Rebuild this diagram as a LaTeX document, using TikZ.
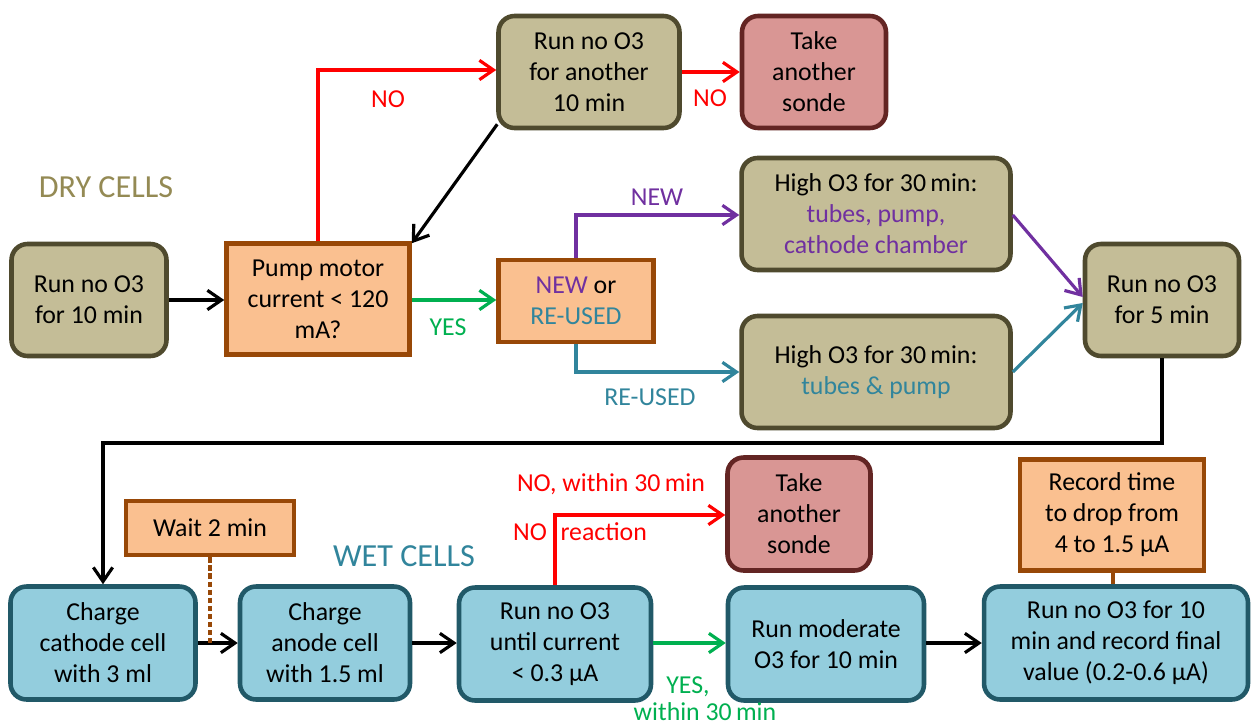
\documentclass[tikz,border=0pt]{standalone}
\usepackage{fontspec}
\setmainfont{Carlito}
\usetikzlibrary{arrows.meta}
\definecolor{olivefill}{HTML}{C4BD97}
\definecolor{olivedraw}{HTML}{4F4A2E}
\definecolor{orfill}{HTML}{FAC090}
\definecolor{ordraw}{HTML}{984807}
\definecolor{pkfill}{HTML}{D99694}
\definecolor{pkdraw}{HTML}{632523}
\definecolor{blfill}{HTML}{93CDDD}
\definecolor{bldraw}{HTML}{215968}
\definecolor{myred}{HTML}{FF0000}
\definecolor{mygreen}{HTML}{00B050}
\definecolor{mypurple}{HTML}{7030A0}
\definecolor{myteal}{HTML}{31859C}
\definecolor{myolive}{HTML}{948A54}
\tikzset{
  box/.style={draw, line width=2.6pt, align=center, inner sep=2pt},
  olivebox/.style={box, fill=olivefill, draw=olivedraw, rounded corners=0.32cm},
  orbox/.style={box, fill=orfill, draw=ordraw},
  pkbox/.style={box, fill=pkfill, draw=pkdraw, rounded corners=0.32cm},
  blbox/.style={box, fill=blfill, draw=bldraw, rounded corners=0.32cm},
  arr/.style={-{Straight Barb[length=8pt,width=11pt,line width=1.8pt]}, line width=1.8pt},
  lbl/.style={inner sep=0pt},
  head/.style={inner sep=0pt, font=\fontsize{18.3}{22}\selectfont}
}
\begin{document}
\begin{tikzpicture}[x=0.02cm,y=-0.02cm,font=\fontsize{14.7}{17.6}\selectfont]
\fill[white] (0,0) rectangle (1254,727);
\useasboundingbox (0,0) rectangle (1254,727);

% headings
\node[head, text=myolive] (dry) at (106,187) {DRY CELLS};
\node[head, text=myteal] (wet) at (404,556) {WET CELLS};

% dry cells
\node[olivebox, minimum width=3.1cm, minimum height=2.24cm] (A) at (89,300) {Run no O3\\for 10 min};
\node[orbox, minimum width=3.66cm, minimum height=2.22cm] (B) at (318,299) {Pump motor\\current {<} 120\\mA?};
\node[olivebox, minimum width=3.62cm, minimum height=2.24cm] (C) at (589,72) {Run no O3\\for another\\10 min};
\node[pkbox, minimum width=2.88cm, minimum height=2.24cm] (D) at (814,72) {Take\\another\\sonde};
\node[orbox, minimum width=3.1cm, minimum height=1.64cm] (E) at (576,301) {\textcolor{mypurple}{NEW} or\\\textcolor{myteal}{RE-USED}};
\node[olivebox, minimum width=5.38cm, minimum height=2.24cm] (F) at (876,214) {High O3 for 30\,min:\\\textcolor{mypurple}{tubes, pump,}\\\textcolor{mypurple}{cathode chamber}};
\node[olivebox, minimum width=5.38cm, minimum height=2.24cm] (G) at (876,372) {High O3 for 30\,min:\\\textcolor{myteal}{tubes \& pump}};
\node[olivebox, minimum width=3.08cm, minimum height=2.24cm] (H) at (1162,300) {Run no O3\\for 5 min};

% wet cells
\node[blbox, minimum width=3.7cm, minimum height=2.26cm] (I) at (103,643) {Charge\\cathode cell\\with 3 ml};
\node[blbox, minimum width=3.4cm, minimum height=2.26cm] (J) at (325,643) {Charge\\anode cell\\with 1.5 ml};
\node[orbox, minimum width=3.36cm, minimum height=1.08cm] (W) at (210,528) {Wait 2 min};
\node[blbox, minimum width=3.84cm, minimum height=2.26cm] (K) at (555,644) {Run no O3\\until current\\{<} 0.3 µA};
\node[pkbox, minimum width=2.86cm, minimum height=2.26cm] (L) at (799,514) {Take\\another\\sonde};
\node[blbox, minimum width=3.92cm, minimum height=2.26cm] (M) at (826,644) {Run moderate\\O3 for 10 min};
\node[blbox, minimum width=5.28cm, minimum height=2.26cm] (N) at (1116,643) {Run no O3 for 10\\min and record final\\value (0.2-0.6 µA)};
\node[orbox, minimum width=3.68cm, minimum height=2.22cm] (O) at (1112,515) {Record time\\to drop from\\4 to 1.5 µA};

% labels
\node[lbl, text=myred] (no1) at (388,99) {NO};
\node[lbl, text=myred] (no2) at (710,98) {NO};
\node[lbl, text=mygreen] (yes1) at (448,327) {YES};
\node[lbl, text=mypurple] (new) at (657,197) {NEW};
\node[lbl, text=myteal] (reused) at (650,397) {RE-USED};
\node[lbl, text=myred] (no3) at (611,484) {NO, within 30\,min};
\node[lbl, text=myred] (no4) at (580,532) {NO\hspace{0.3em} reaction};
\node[lbl, text=mygreen] (yes2) at (688,687) {YES,};
\node[lbl, text=mygreen] (yes3) at (705,712) {within 30\,min};

% connectors dry
\draw[arr] (A.east) -- (B.west |- A.east);
\draw[arr, myred] (B.north) -- (B.north |- 0,70) coordinate (bc) -- (C.west |- bc);
\draw[arr, myred] (C.east) -- (D.west);
\draw[arr] ([shift={(1,-6)}]C.south west) -- ([shift={(0,2)}]B.north east);
\draw[arr, mygreen] (B.east |- 0,300) -- (E.west |- 0,300);
\draw[arr, mypurple] (E.north) -- (E.north |- 0,215) coordinate (ef) -- (F.west |- ef);
\draw[arr, myteal] (E.south) -- (E.south |- G.west) -- (G.west);
\draw[arr, mypurple] (F.east |- 0,215) -- ([shift={(0,-3)}]H.west);
\draw[arr, myteal] (G.east) -- ([shift={(0,3)}]H.west);
\draw[arr] (H.south) -- (H.south |- 0,443) coordinate (hi) -- (I.north |- hi) -- (I.north);

% connectors wet
\draw[arr] (I.east) -- (J.west);
\draw[ordraw, line width=1.8pt, dash pattern=on 3pt off 1.6pt] (W.south) -- (W.south |- I.east);
\draw[arr] (J.east) -- (K.west |- J.east);
\draw[arr, myred] (K.north) -- (K.north |- 0,515) coordinate (kl) -- (L.west |- kl);
\draw[arr, mygreen] (K.east |- 0,643) -- (M.west |- 0,643);
\draw[arr] (M.east |- 0,643) -- (N.west |- 0,643);
\draw[ordraw, line width=2.2pt] (O.south -| 1113,0) -- (N.north -| 1113,0);
\end{tikzpicture}
\end{document}
